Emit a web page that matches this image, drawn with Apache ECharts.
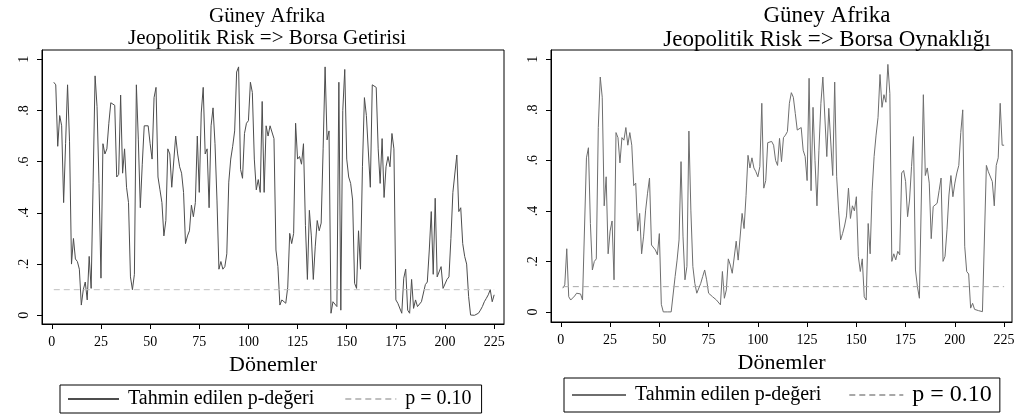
<!DOCTYPE html>
<html><head><meta charset="utf-8">
<script src="https://cdn.jsdelivr.net/npm/echarts@6/dist/echarts.min.js"></script>
<style>html,body{margin:0;padding:0;background:#fff}#c{width:1018px;height:419px}</style>
</head><body><div id="c"></div><script>
// ---- data ----
const periods = Array.from({length:225},(_,i)=>i+1);
const returnsP = [
0.91,0.90,0.66,0.78,0.74,0.44,0.67,0.90,0.68,0.20,0.30,0.22,0.21,0.18,0.04,0.10,0.13,0.06,0.23,0.105,
0.52,0.935,0.815,0.515,0.145,0.67,0.63,0.65,0.75,0.83,0.83,0.82,0.54,0.55,0.86,0.555,0.65,0.50,0.44,0.15,
0.10,0.16,0.90,0.685,0.42,0.59,0.74,0.74,0.74,0.67,0.61,0.85,0.89,0.54,0.49,0.44,0.31,0.37,0.65,0.63,
0.50,0.50,0.70,0.63,0.58,0.555,0.48,0.28,0.31,0.33,0.43,0.385,0.44,0.70,0.48,0.79,0.89,0.63,0.65,0.42,
0.74,0.81,0.67,0.45,0.18,0.21,0.18,0.19,0.24,0.52,0.61,0.66,0.72,0.95,0.97,0.57,0.535,0.71,0.75,0.76,
0.91,0.87,0.61,0.49,0.53,0.48,0.835,0.48,0.74,0.70,0.74,0.74,0.69,0.255,0.19,0.04,0.06,0.053,0.047,0.11,
0.32,0.28,0.32,0.75,0.61,0.62,0.59,0.67,0.35,0.14,0.41,0.31,0.14,0.27,0.37,0.33,0.36,0.65,0.97,0.685,
0.72,0.008,0.053,0.06,0.034,0.91,0.02,0.80,0.96,0.61,0.54,0.515,0.45,0.125,0.105,0.33,0.18,0.58,0.85,0.78,
0.78,0.50,0.90,0.90,0.89,
0.65,0.515,0.69,0.46,0.58,0.62,0.58,0.71,0.65,0.06,0.047,0.04,0.008,0.145,0.18,0.02,0.008,0.14,0.027,0.06,
0.034,0.04,0.053,0.06,0.12,0.13,0.255,0.405,0.16,0.457,0.15,0.15,0.19,0.105,0.10,0.14,0.15,0.30,0.48,0.477,
0.626,0.405,0.42,0.28,0.23,0.20,0.073,0.001,0,0,0,0.008,0.02,0.034,0.053,0.066,0.08,0.10,0.053,0.08
];
const volatilityP = [
0.094,0.107,0.25,0.06,0.047,0.054,0.063,0.074,0.067,0.071,0.047,0.047,0.61,0.65,0.35,0.166,0.20,0.21,0.73,0.93,
0.85,0.42,0.535,0.23,0.32,0.36,0.127,0.71,0.69,0.59,0.69,0.68,0.73,0.66,0.71,0.66,0.50,0.51,0.32,0.39,
0.23,0.30,0.40,0.47,0.53,0.265,0.26,0.245,0.226,0.31,0.03,0,0,0,0,0,0.002,0.14,0.205,0.285,
0.595,0.30,0.127,0.18,0.716,0.40,0.18,0.113,0.074,0.08,0.113,0.14,0.166,0.127,0.074,0.067,0.06,0.054,0.047,0.054,
0.028,0.16,0.054,0.087,0.21,0.186,0.153,0.146,0.28,0.205,0.20,0.39,0.33,0.46,0.62,0.57,0.61,0.57,0.555,0.535,
0.575,0.826,0.49,0.52,0.67,0.675,0.675,0.66,0.60,0.58,0.687,0.595,0.69,0.70,0.714,0.826,0.868,0.85,0.786,0.72,
0.72,0.73,0.64,0.615,0.52,0.925,0.48,0.81,0.60,0.42,0.64,0.826,0.93,0.925,0.615,0.806,0.80,0.54,0.91,0.535,
0.40,0.285,0.31,0.34,0.38,0.49,0.37,0.42,0.40,0.456,0.22,0.16,0.21,0.06,0.047,0.35,0.23,0.48,0.615,0.70,
0.77,0.94,0.81,0.86,0.83,0.98,0.865,0.20,0.23,0.206,0.24,0.226,0.55,0.56,0.516,0.377,0.443,0.575,0.694,0.166,
0.10,0.054,0.047,0.86,0.54,0.57,0.51,0.29,0.417,0.41,0.43,0.48,0.53,0.20,0.22,0.325,0.463,0.54,0.456,0.51,
0.55,0.58,0.71,0.80,0.26,0.16,0.15,0.015,0.034,0.01,0.008,0.005,0.004,0.001,0.001,0.58,0.555,0.55,0.516,0.42,
0.58,0.61,0.826,0.66,0.66
];
const threshold = 0.10;
const xTicks = [0,25,50,75,100,125,150,175,200,225];
const yTicks = [0,0.2,0.4,0.6,0.8,1];
const yTickLabels = ['0','.2','.4','.6','.8','1'];
const titleTop = 'Güney Afrika';
const subLeft = 'Jeopolitik Risk => Borsa Getirisi';
const subRight = 'Jeopolitik Risk => Borsa Oynaklığı';
const xName = 'Dönemler';
const legendNames = {L1:'Tahmin edilen p-değeri', L2:'p = 0.10', R1:'Tahmin edilen p-değeri', R2:'p = 0.10'};

// ---- chart ----
const FONT = '"Liberation Serif","Times New Roman",serif';
const chart = echarts.init(document.getElementById('c'), null, {renderer:'canvas'});
function xAxisDef(g, min, max){
  return {gridIndex:g, type:'value', min:min, max:max,
    axisLine:{show:true, onZero:false, lineStyle:{color:'#000', width:1}},
    axisTick:{show:true, customValues:xTicks, length:5, lineStyle:{color:'#000'}},
    axisLabel:{customValues:xTicks, color:'#000', fontFamily:FONT, fontSize:14, margin:11},
    splitLine:{show:false},
    name:xName, nameLocation:'middle', nameGap:25,
    nameTextStyle:{color:'#000', fontFamily:FONT, fontSize:22}};
}
function yAxisDef(g, min, max){
  return {gridIndex:g, type:'value', min:min, max:max,
    axisLine:{show:true, onZero:false, lineStyle:{color:'#000', width:1}},
    axisTick:{show:true, customValues:yTicks, length:5, lineStyle:{color:'#000'}},
    axisLabel:{customValues:yTicks, rotate:90, color:'#000', fontFamily:FONT, fontSize:14, margin:11,
      formatter:v=>yTickLabels[Math.round(v*5)]},
    splitLine:{show:false}};
}
function legendDef(left, top, names, gap, iw, pad, bigLast){
  return {left:left, top:top, orient:'horizontal', data:names,
    borderColor:'#000', borderWidth:1, backgroundColor:'#fff', borderRadius:0,
    padding:pad, itemGap:gap, itemWidth:iw, itemHeight:12,
    itemStyle:{opacity:0},
    formatter:n=> (bigLast && n===names[1]) ? '{b|'+legendNames[n]+'}' : legendNames[n],
    textStyle:{color:'#000', fontFamily:FONT, fontSize:20, padding:[0,0,0,4],
      rich:{b:{fontFamily:FONT, fontSize:24, color:'#000'}}}};
}
function titleDef(sub, x, s, top){
  return {text:titleTop+'\n'+sub, left:x, top:top, textAlign:'center',
    textStyle:{fontFamily:FONT, fontSize:s, fontWeight:'normal', color:'#000', lineHeight:s+1}};
}
chart.setOption({
  animation:false,
  backgroundColor:'#fff',
  title:[ titleDef(subLeft, 262, 21, 0), titleDef(subRight, 822, 23, -1) ],
  grid:[
    {left:42, top:50, width:462, height:274, show:true, borderColor:'#000', borderWidth:1, backgroundColor:'#fff'},
    {left:551, top:50, width:461, height:272, show:true, borderColor:'#000', borderWidth:1, backgroundColor:'#fff'}
  ],
  xAxis:[xAxisDef(0,-5,230), xAxisDef(1,-5,229)],
  yAxis:[yAxisDef(0,-0.034,1.036), yAxisDef(1,-0.04,1.037)],
  legend:[
    legendDef(60, 385, ['L1','L2'], 30, 51, [4,10,4,7], false),
    legendDef(564, 378, ['R1','R2'], 27, 54, [5,8,5,7], true)
  ],
  series:[
    {name:'L1', type:'line', xAxisIndex:0, yAxisIndex:0, symbol:'none',
      data:periods.map((p,i)=>[p, returnsP[i]]), itemStyle:{color:'#4d4d4d'}, lineStyle:{color:'#4d4d4d', width:1}},
    {name:'L2', type:'line', xAxisIndex:0, yAxisIndex:0, symbol:'none',
      data:[[periods[0],threshold],[periods[periods.length-1],threshold]],
      itemStyle:{color:'#bfbfbf'}, lineStyle:{color:'#bfbfbf', width:1, type:[6,4]}},
    {name:'R1', type:'line', xAxisIndex:1, yAxisIndex:1, symbol:'none',
      data:periods.map((p,i)=>[p, volatilityP[i]]), itemStyle:{color:'#6e6e6e'}, lineStyle:{color:'#6e6e6e', width:1}},
    {name:'R2', type:'line', xAxisIndex:1, yAxisIndex:1, symbol:'none',
      data:[[periods[0],threshold],[periods[periods.length-1],threshold]],
      itemStyle:{color:'#a8a8a8'}, lineStyle:{color:'#a8a8a8', width:1, type:[6,4]}}
  ]
});
</script></body></html>
